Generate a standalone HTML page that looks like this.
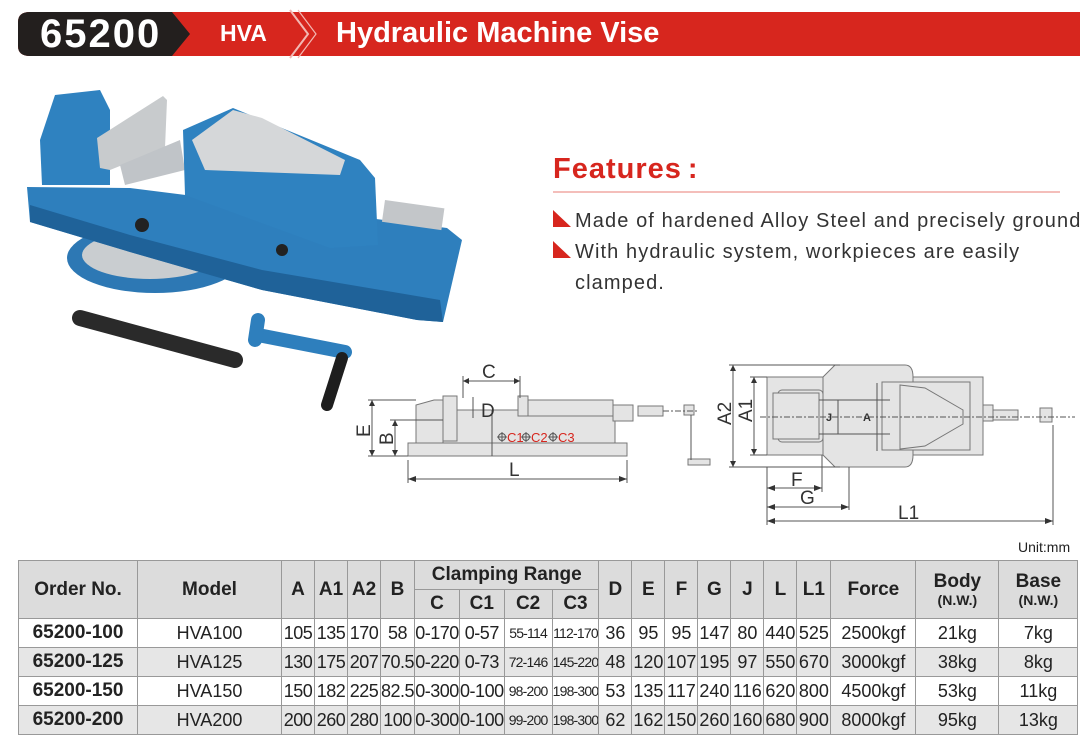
<!DOCTYPE html>
<html><head><meta charset="utf-8"><style>
*{margin:0;padding:0;box-sizing:border-box}
body{width:1081px;height:735px;background:#fff;position:relative;overflow:hidden;font-family:"Liberation Sans",sans-serif}
.abs{position:absolute}
table{position:absolute;left:18px;top:560px;border-collapse:collapse;table-layout:fixed}
td{border:1px solid #999;text-align:center;color:#222;font-size:18px;height:29px;padding:0;white-space:nowrap;overflow:hidden}
.h td{background:#dcdcdc;font-weight:bold;font-size:19px;color:#222}
.g td{background:#e6e6e6}
td.on{font-weight:bold;font-size:19px}
.n{font-family:"Liberation Sans Narrow","Liberation Sans",sans-serif;font-size:18px;letter-spacing:-0.5px}
.s{font-family:"Liberation Sans Narrow","Liberation Sans",sans-serif;font-size:14px;letter-spacing:-0.8px}
.sub{font-size:14px;display:block;line-height:15px}
</style></head><body>
<svg class="abs" style="left:0;top:0" width="1081" height="735">
 <path d="M30 12 H1080 V56 H30 Q18 56 18 46 V22 Q18 12 30 12Z" fill="#d7261e"/>
 <path d="M30 12 H172 L190 34 L172 56 H30 Q18 56 18 46 V22 Q18 12 30 12Z" fill="#231f1e"/>
 <path d="M290 10 L308 34 L290 58" stroke="#f2b8b3" stroke-width="2" fill="none"/>
 <path d="M298 10 L316 34 L298 58" stroke="#f2b8b3" stroke-width="1.2" fill="none"/>
 <line x1="553" y1="192" x2="1060" y2="192" stroke="#f0a8a3" stroke-width="1.5"/>
 <path d="M553 210 L553 227 L571 227Z" fill="#d7261e"/>
 <path d="M553 241 L553 258 L571 258Z" fill="#d7261e"/>
 <ellipse cx="155" cy="258" rx="88" ry="35" fill="#2d78b4"/>
 <ellipse cx="150" cy="255" rx="68" ry="24" fill="#c9cdd0"/>
 <polygon points="27,187 130,188 447,228 462,240 443,322 417,320 262,290 130,252 30,222" fill="#2e7fbd"/>
 <polygon points="30,205 130,235 262,270 440,300 443,322 417,320 262,290 130,252 30,222" fill="#1f6299"/>
 <polygon points="40,140 55,95 100,90 110,110 110,185 42,185" fill="#2f82c0"/>
 <polygon points="97,138 163,96 167,100 165,148 110,170 100,168" fill="#c8cbcd"/>
 <polygon points="120,165 180,140 185,170 125,185" fill="#c0c4c8"/>
 <polygon points="183,130 233,108 360,160 375,178 378,245 330,248 185,195" fill="#2f82c0"/>
 <polygon points="192,140 233,110 262,118 345,160 340,175 205,170" fill="#d5d7d9"/>
 <rect x="385" y="200" width="60" height="22" fill="#c3c6c9" transform="rotate(8 385 200)"/>
 <circle cx="142" cy="225" r="7" fill="#222"/>
 <circle cx="282" cy="250" r="6" fill="#222"/>
 <line x1="80" y1="318" x2="235" y2="360" stroke="#2a2a2a" stroke-width="16" stroke-linecap="round"/>
 <line x1="258" y1="335" x2="345" y2="352" stroke="#2e7fbd" stroke-width="14" stroke-linecap="round"/>
 <line x1="258" y1="320" x2="255" y2="340" stroke="#2e7fbd" stroke-width="14" stroke-linecap="round"/>
 <line x1="342" y1="358" x2="327" y2="405" stroke="#1e1e1e" stroke-width="12" stroke-linecap="round"/>
 <g stroke="#777" stroke-width="1" fill="#e4e4e4">
  <rect x="408" y="443" width="219" height="13"/>
  <polygon points="416,443 416,405 434,400 443,400 443,443"/>
  <rect x="443" y="410" width="172" height="33"/>
  <rect x="443" y="396" width="14" height="45"/>
  <rect x="518" y="396" width="10" height="20"/>
  <rect x="528" y="400" width="85" height="16"/>
  <rect x="613" y="405" width="20" height="16"/>
  <rect x="638" y="406" width="25" height="10"/>
  <rect x="684" y="405" width="10" height="10"/>
  <rect x="688" y="459" width="22" height="6"/>
 </g>
 <g stroke="#555" stroke-width="1" fill="none">
  <line x1="663" y1="411" x2="698" y2="411" stroke-dasharray="6 2 2 2"/>
  <line x1="691" y1="415" x2="691" y2="460"/>
  <line x1="463" y1="381" x2="520" y2="381"/><line x1="463" y1="376" x2="463" y2="398"/><line x1="520" y1="376" x2="520" y2="398"/>
  <line x1="473" y1="397" x2="473" y2="418"/>
  <line x1="368" y1="400" x2="416" y2="400"/><line x1="372" y1="400" x2="372" y2="456"/><line x1="368" y1="456" x2="408" y2="456"/>
  <line x1="390" y1="420" x2="443" y2="420"/><line x1="395" y1="420" x2="395" y2="456"/>
  <line x1="408" y1="460" x2="408" y2="483"/><line x1="627" y1="460" x2="627" y2="483"/><line x1="408" y1="479" x2="627" y2="479"/>
  <line x1="492" y1="410" x2="492" y2="456"/>
  <circle cx="502" cy="437" r="3.5"/><line x1="497" y1="437" x2="507" y2="437"/><line x1="502" y1="432" x2="502" y2="442"/>
  <circle cx="526" cy="437" r="3.5"/><line x1="521" y1="437" x2="531" y2="437"/><line x1="526" y1="432" x2="526" y2="442"/>
  <circle cx="553" cy="437" r="3.5"/><line x1="548" y1="437" x2="558" y2="437"/><line x1="553" y1="432" x2="553" y2="442"/>
 </g>
 <g stroke="#777" stroke-width="1" fill="#e4e4e4">
  <rect x="767" y="377" width="216" height="78"/>
  <path d="M823 377 L835 365 H905 Q913 365 913 377 V455 Q913 467 905 467 H835 L823 455Z"/>
  <rect x="778" y="390" width="45" height="52" rx="4"/>
  <rect x="773" y="393" width="46" height="46"/>
  <rect x="882" y="382" width="88" height="68"/>
  <polygon points="900,385 925,388 963,410 963,424 925,446 900,449"/>
  <rect x="983" y="405" width="10" height="16"/>
  <rect x="993" y="410" width="25" height="10"/>
  <rect x="1040" y="408" width="12" height="14"/>
 </g>
 <g stroke="#555" stroke-width="1" fill="none">
  <line x1="760" y1="417" x2="1075" y2="417" stroke-dasharray="6 2 2 2"/>
  <line x1="819" y1="400" x2="890" y2="400"/><line x1="819" y1="434" x2="890" y2="434"/>
  <line x1="838" y1="400" x2="838" y2="434"/><line x1="877" y1="383" x2="877" y2="451"/>
  <line x1="733" y1="365" x2="733" y2="467"/><line x1="729" y1="365" x2="840" y2="365"/><line x1="729" y1="467" x2="840" y2="467"/>
  <line x1="754" y1="377" x2="754" y2="455"/><line x1="750" y1="377" x2="767" y2="377"/><line x1="750" y1="455" x2="767" y2="455"/>
  <line x1="767" y1="467" x2="767" y2="525"/><line x1="822" y1="455" x2="822" y2="492"/><line x1="849" y1="467" x2="849" y2="510"/><line x1="1053" y1="425" x2="1053" y2="525"/>
  <line x1="767" y1="488" x2="822" y2="488"/><line x1="767" y1="507" x2="849" y2="507"/><line x1="767" y1="521" x2="1053" y2="521"/>
 </g>
 <g fill="#333">
  <path d="M463 381 l6 -3 v6z M520 381 l-6 -3 v6z M372 400 l-3 6 h6z M372 456 l-3 -6 h6z M395 420 l-3 6 h6z M395 456 l-3 -6 h6z M408 479 l8 -3 v6z M627 479 l-8 -3 v6z"/>
  <path d="M733 365 l-3 6 h6z M733 467 l-3 -6 h6z M754 377 l-3 6 h6z M754 455 l-3 -6 h6z M767 488 l8 -3 v6z M822 488 l-8 -3 v6z M767 507 l8 -3 v6z M849 507 l-8 -3 v6z M767 521 l8 -3 v6z M1053 521 l-8 -3 v6z"/>
 </g>
 <g font-family="Liberation Sans" fill="#333" font-size="19">
  <text x="482" y="378">C</text><text x="481" y="417">D</text><text x="509" y="476">L</text>
  <text x="370" y="437" transform="rotate(-90 370 437)">E</text>
  <text x="393" y="445" transform="rotate(-90 393 445)">B</text>
  <text x="791" y="486">F</text><text x="800" y="504">G</text><text x="898" y="519">L1</text>
  <text x="731" y="425" transform="rotate(-90 731 425)">A2</text>
  <text x="752" y="422" transform="rotate(-90 752 422)">A1</text>
  <text x="826" y="421" font-size="11" font-weight="bold">J</text>
  <text x="863" y="421" font-size="11" font-weight="bold">A</text>
 </g>
 <text x="507" y="442" font-family="Liberation Sans" font-size="13" fill="#d7261e">C1</text>
 <text x="531" y="442" font-family="Liberation Sans" font-size="13" fill="#d7261e">C2</text>
 <text x="558" y="442" font-family="Liberation Sans" font-size="13" fill="#d7261e">C3</text>
</svg>
<div class="abs" style="left:40px;top:12px;color:#fff;font-weight:bold;font-size:40px;letter-spacing:2px">65200</div>
<div class="abs" style="left:220px;top:20px;color:#fff;font-weight:bold;font-size:23px">HVA</div>
<div class="abs" style="left:336px;top:17px;color:#fff;font-weight:bold;font-size:29px">Hydraulic Machine Vise</div>
<div class="abs" style="left:553px;top:153px;color:#d7261e;font-weight:bold;font-size:29px;letter-spacing:1px">Features<span style="margin-left:6px">:</span></div>
<div class="abs" style="left:575px;top:206px;color:#333;font-size:20px;letter-spacing:1.1px;line-height:31px;white-space:nowrap">Made of hardened Alloy Steel and precisely ground<br>With hydraulic system, workpieces are easily<br>clamped.</div>
<div class="abs" style="left:1018px;top:539px;color:#222;font-size:14px">Unit:mm</div>
<table>
<colgroup><col style="width:119px"><col style="width:144px"><col style="width:33px"><col style="width:33px"><col style="width:33px"><col style="width:33px"><col style="width:45px"><col style="width:41px"><col style="width:48px"><col style="width:46px"><col style="width:33px"><col style="width:33px"><col style="width:33px"><col style="width:33px"><col style="width:33px"><col style="width:33px"><col style="width:34px"><col style="width:85px"><col style="width:83px"><col style="width:79px"></colgroup>
<tr class="h"><td rowspan="2">Order No.</td><td rowspan="2">Model</td><td rowspan="2">A</td><td rowspan="2">A1</td><td rowspan="2">A2</td><td rowspan="2">B</td><td colspan="4">Clamping Range</td><td rowspan="2">D</td><td rowspan="2">E</td><td rowspan="2">F</td><td rowspan="2">G</td><td rowspan="2">J</td><td rowspan="2">L</td><td rowspan="2">L1</td><td rowspan="2">Force</td><td rowspan="2">Body<span class="sub">(N.W.)</span></td><td rowspan="2">Base<span class="sub">(N.W.)</span></td></tr>
<tr class="h"><td>C</td><td>C1</td><td>C2</td><td>C3</td></tr>
<tr><td class="on">65200-100</td><td>HVA100</td><td class="n">105</td><td class="n">135</td><td class="n">170</td><td class="n">58</td><td class="n">0-170</td><td class="n">0-57</td><td class="s">55-114</td><td class="s">112-170</td><td>36</td><td>95</td><td>95</td><td>147</td><td>80</td><td>440</td><td>525</td><td>2500kgf</td><td>21kg</td><td>7kg</td></tr>
<tr class="g"><td class="on">65200-125</td><td>HVA125</td><td class="n">130</td><td class="n">175</td><td class="n">207</td><td class="n">70.5</td><td class="n">0-220</td><td class="n">0-73</td><td class="s">72-146</td><td class="s">145-220</td><td>48</td><td>120</td><td>107</td><td>195</td><td>97</td><td>550</td><td>670</td><td>3000kgf</td><td>38kg</td><td>8kg</td></tr>
<tr><td class="on">65200-150</td><td>HVA150</td><td class="n">150</td><td class="n">182</td><td class="n">225</td><td class="n">82.5</td><td class="n">0-300</td><td class="n">0-100</td><td class="s">98-200</td><td class="s">198-300</td><td>53</td><td>135</td><td>117</td><td>240</td><td>116</td><td>620</td><td>800</td><td>4500kgf</td><td>53kg</td><td>11kg</td></tr>
<tr class="g"><td class="on">65200-200</td><td>HVA200</td><td class="n">200</td><td class="n">260</td><td class="n">280</td><td class="n">100</td><td class="n">0-300</td><td class="n">0-100</td><td class="s">99-200</td><td class="s">198-300</td><td>62</td><td>162</td><td>150</td><td>260</td><td>160</td><td>680</td><td>900</td><td>8000kgf</td><td>95kg</td><td>13kg</td></tr>
</table>
</body></html>
